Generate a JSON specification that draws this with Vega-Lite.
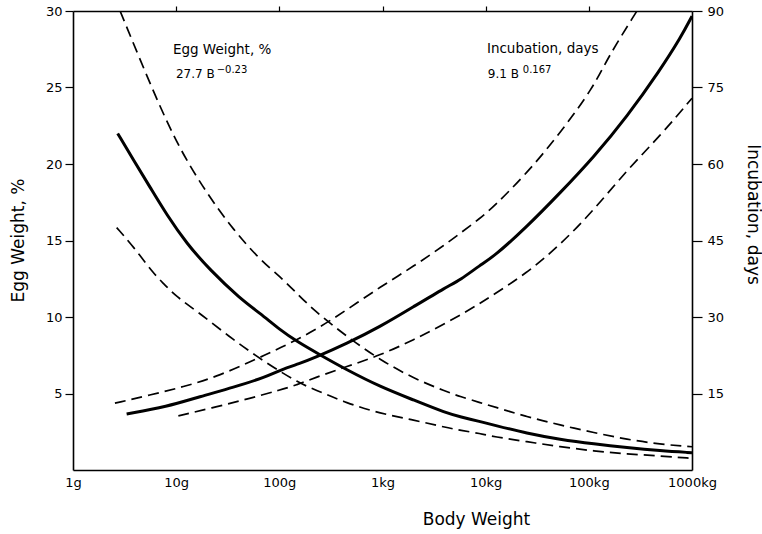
{
  "$schema": "https://vega.github.io/schema/vega-lite/v6.json",
  "autosize": {"type": "none"},
  "width": 619,
  "height": 459,
  "padding": {"left": 73, "top": 11, "right": 70, "bottom": 64},
  "background": "white",
  "config": {
    "view": {"stroke": null},
    "font": "DejaVu Sans",
    "axis": {
      "domainColor": "black", "domainWidth": 1.6, "tickColor": "black", "tickWidth": 1.2,
      "labelColor": "black", "labelFont": "DejaVu Sans", "labelFontSize": 13,
      "titleFont": "DejaVu Sans", "titleFontSize": 17, "titleFontWeight": "normal", "titleColor": "black",
      "grid": false
    }
  },
  "datasets": {
    "curves": [
      {"curve": "egg_mean", "g": 2.71, "v": 22.0}, {"curve": "egg_mean", "g": 3.85, "v": 20.26}, {"curve": "egg_mean", "g": 5.57, "v": 18.5}, {"curve": "egg_mean", "g": 8.11, "v": 16.67}, {"curve": "egg_mean", "g": 12.65, "v": 14.8}, {"curve": "egg_mean", "g": 21.3, "v": 13.07}, {"curve": "egg_mean", "g": 41.7, "v": 11.2}, {"curve": "egg_mean", "g": 65.2, "v": 10.24}, {"curve": "egg_mean", "g": 101.9, "v": 9.15}, {"curve": "egg_mean", "g": 148, "v": 8.4}, {"curve": "egg_mean", "g": 249, "v": 7.52}, {"curve": "egg_mean", "g": 452, "v": 6.54}, {"curve": "egg_mean", "g": 951, "v": 5.44}, {"curve": "egg_mean", "g": 1995, "v": 4.58}, {"curve": "egg_mean", "g": 4207, "v": 3.7}, {"curve": "egg_mean", "g": 5662, "v": 3.48}, {"curve": "egg_mean", "g": 8872, "v": 3.16}, {"curve": "egg_mean", "g": 11940, "v": 2.94}, {"curve": "egg_mean", "g": 25120, "v": 2.4}, {"curve": "egg_mean", "g": 52480, "v": 2.0}, {"curve": "egg_mean", "g": 112200, "v": 1.7}, {"curve": "egg_mean", "g": 234400, "v": 1.46}, {"curve": "egg_mean", "g": 489800, "v": 1.26}, {"curve": "egg_mean", "g": 1000000, "v": 1.13},
      {"curve": "egg_upper", "g": 2.86, "v": 30}, {"curve": "egg_upper", "g": 6.46, "v": 24.2}, {"curve": "egg_upper", "g": 10.96, "v": 20.9}, {"curve": "egg_upper", "g": 19.8, "v": 18.08}, {"curve": "egg_upper", "g": 35.9, "v": 15.69}, {"curve": "egg_upper", "g": 65.2, "v": 13.73}, {"curve": "egg_upper", "g": 101.9, "v": 12.63}, {"curve": "egg_upper", "g": 148, "v": 11.55}, {"curve": "egg_upper", "g": 214, "v": 10.46}, {"curve": "egg_upper", "g": 452, "v": 8.71}, {"curve": "egg_upper", "g": 951, "v": 7.19}, {"curve": "egg_upper", "g": 1995, "v": 5.99}, {"curve": "egg_upper", "g": 4169, "v": 5.12}, {"curve": "egg_upper", "g": 5662, "v": 4.8}, {"curve": "egg_upper", "g": 8872, "v": 4.4}, {"curve": "egg_upper", "g": 11940, "v": 4.14}, {"curve": "egg_upper", "g": 25120, "v": 3.48}, {"curve": "egg_upper", "g": 52480, "v": 2.94}, {"curve": "egg_upper", "g": 112200, "v": 2.44}, {"curve": "egg_upper", "g": 234400, "v": 2.0}, {"curve": "egg_upper", "g": 489800, "v": 1.68}, {"curve": "egg_upper", "g": 1000000, "v": 1.52},
      {"curve": "egg_lower", "g": 2.65, "v": 15.84}, {"curve": "egg_lower", "g": 3.85, "v": 14.6}, {"curve": "egg_lower", "g": 6.0, "v": 12.86}, {"curve": "egg_lower", "g": 7.52, "v": 12.2}, {"curve": "egg_lower", "g": 10, "v": 11.33}, {"curve": "egg_lower", "g": 17.0, "v": 10.24}, {"curve": "egg_lower", "g": 35.9, "v": 8.5}, {"curve": "egg_lower", "g": 75.3, "v": 6.97}, {"curve": "egg_lower", "g": 158.5, "v": 5.65}, {"curve": "egg_lower", "g": 214, "v": 5.3}, {"curve": "egg_lower", "g": 452, "v": 4.36}, {"curve": "egg_lower", "g": 951, "v": 3.7}, {"curve": "egg_lower", "g": 1995, "v": 3.27}, {"curve": "egg_lower", "g": 4169, "v": 2.77}, {"curve": "egg_lower", "g": 5662, "v": 2.6}, {"curve": "egg_lower", "g": 8872, "v": 2.38}, {"curve": "egg_lower", "g": 11940, "v": 2.18}, {"curve": "egg_lower", "g": 25120, "v": 1.85}, {"curve": "egg_lower", "g": 52480, "v": 1.52}, {"curve": "egg_lower", "g": 112200, "v": 1.24}, {"curve": "egg_lower", "g": 234400, "v": 1.05}, {"curve": "egg_lower", "g": 489800, "v": 0.92}, {"curve": "egg_lower", "g": 1000000, "v": 0.76},
      {"curve": "inc_mean", "g": 3.31, "v": 10.98}, {"curve": "inc_mean", "g": 8.11, "v": 12.4}, {"curve": "inc_mean", "g": 17.0, "v": 14.4}, {"curve": "inc_mean", "g": 35.9, "v": 16.2}, {"curve": "inc_mean", "g": 75.3, "v": 18.3}, {"curve": "inc_mean", "g": 101.9, "v": 19.6}, {"curve": "inc_mean", "g": 158.5, "v": 20.9}, {"curve": "inc_mean", "g": 214, "v": 21.9}, {"curve": "inc_mean", "g": 452, "v": 24.8}, {"curve": "inc_mean", "g": 951, "v": 28.1}, {"curve": "inc_mean", "g": 1995, "v": 32.0}, {"curve": "inc_mean", "g": 4169, "v": 35.9}, {"curve": "inc_mean", "g": 5662, "v": 37.25}, {"curve": "inc_mean", "g": 8872, "v": 40.2}, {"curve": "inc_mean", "g": 11940, "v": 41.8}, {"curve": "inc_mean", "g": 25120, "v": 47.7}, {"curve": "inc_mean", "g": 52480, "v": 54.3}, {"curve": "inc_mean", "g": 112200, "v": 61.4}, {"curve": "inc_mean", "g": 234400, "v": 69.3}, {"curve": "inc_mean", "g": 489800, "v": 78.4}, {"curve": "inc_mean", "g": 787000, "v": 85}, {"curve": "inc_mean", "g": 1000000, "v": 89},
      {"curve": "inc_upper", "g": 2.55, "v": 13.1}, {"curve": "inc_upper", "g": 5.57, "v": 14.7}, {"curve": "inc_upper", "g": 11.75, "v": 16.3}, {"curve": "inc_upper", "g": 24.7, "v": 18.3}, {"curve": "inc_upper", "g": 52.1, "v": 21.2}, {"curve": "inc_upper", "g": 101.9, "v": 23.9}, {"curve": "inc_upper", "g": 214, "v": 27.2}, {"curve": "inc_upper", "g": 452, "v": 31.4}, {"curve": "inc_upper", "g": 951, "v": 35.9}, {"curve": "inc_upper", "g": 1995, "v": 39.9}, {"curve": "inc_upper", "g": 4169, "v": 44.4}, {"curve": "inc_upper", "g": 5662, "v": 46.4}, {"curve": "inc_upper", "g": 8872, "v": 49.4}, {"curve": "inc_upper", "g": 11940, "v": 51.6}, {"curve": "inc_upper", "g": 25120, "v": 58.2}, {"curve": "inc_upper", "g": 52480, "v": 66.0}, {"curve": "inc_upper", "g": 112200, "v": 75.2}, {"curve": "inc_upper", "g": 147900, "v": 80.4}, {"curve": "inc_upper", "g": 292400, "v": 90},
      {"curve": "inc_lower", "g": 10.5, "v": 10.6}, {"curve": "inc_lower", "g": 24.7, "v": 12.4}, {"curve": "inc_lower", "g": 52.1, "v": 14.05}, {"curve": "inc_lower", "g": 101.9, "v": 15.7}, {"curve": "inc_lower", "g": 148, "v": 16.7}, {"curve": "inc_lower", "g": 214, "v": 18.0}, {"curve": "inc_lower", "g": 452, "v": 20.3}, {"curve": "inc_lower", "g": 951, "v": 22.5}, {"curve": "inc_lower", "g": 1995, "v": 25.5}, {"curve": "inc_lower", "g": 4169, "v": 28.8}, {"curve": "inc_lower", "g": 8872, "v": 32.7}, {"curve": "inc_lower", "g": 10230, "v": 33.5}, {"curve": "inc_lower", "g": 25120, "v": 38.6}, {"curve": "inc_lower", "g": 52480, "v": 44.1}, {"curve": "inc_lower", "g": 112200, "v": 51.0}, {"curve": "inc_lower", "g": 234400, "v": 58.8}, {"curve": "inc_lower", "g": 489800, "v": 65.5}, {"curve": "inc_lower", "g": 1000000, "v": 72.9}
    ],
    "notes": [
      {"chart": "egg", "kind": "head", "label": "Egg Weight, %", "g": 9.3, "v": 27.45},
      {"chart": "egg", "kind": "formula", "label": "27.7 B", "g": 9.96, "v": 25.9},
      {"chart": "egg", "kind": "sup", "label": "−0.23", "g": 24.7, "v": 26.15},
      {"chart": "inc", "kind": "head", "label": "Incubation, days", "g": 10280, "v": 82.6},
      {"chart": "inc", "kind": "formula", "label": "9.1 B", "g": 10500, "v": 77.6},
      {"chart": "inc", "kind": "sup", "label": "0.167", "g": 22900, "v": 78.4}
    ]
  },
  "layer": [
    {
      "encoding": {
        "x": {"field": "g", "type": "quantitative", "scale": {"type": "log", "domain": [1, 1000000]},
          "axis": {"orient": "bottom", "values": [1, 10, 100, 1000, 10000, 100000, 1000000], "title": "Body Weight",
            "labelExpr": "datum.value < 1000 ? datum.value + 'g' : (datum.value / 1000) + 'kg'",
            "ticks": false, "tickSize": 0, "labelPadding": 6, "labelFlush": false, "labelOverlap": false, "labelBound": false,
            "titleX": 403, "titleY": 49, "titleBaseline": "middle"}},
        "y": {"field": "v", "type": "quantitative", "scale": {"domain": [0, 30]},
          "axis": {"orient": "left", "values": [5, 10, 15, 20, 25, 30], "title": "Egg Weight, %",
            "tickSize": 8, "labelPadding": 3, "titleX": -55, "titleY": 229, "titleBaseline": "middle"}}
      },
      "layer": [
        {"data": {"name": "curves"}, "transform": [{"filter": "datum.curve === 'egg_mean'"}],
          "mark": {"type": "line", "color": "black", "strokeWidth": 3, "interpolate": "basis", "clip": true}, "encoding": {}},
        {"data": {"name": "curves"}, "transform": [{"filter": "datum.curve === 'egg_upper' || datum.curve === 'egg_lower'"}],
          "mark": {"type": "line", "color": "black", "strokeWidth": 1.7, "strokeDash": [11, 6], "interpolate": "basis", "clip": true},
          "encoding": {"detail": {"field": "curve"}}},
        {"data": {"name": "notes"}, "transform": [{"filter": "datum.chart === 'egg' && datum.kind === 'head'"}],
          "mark": {"type": "text", "align": "left", "baseline": "middle", "font": "DejaVu Sans", "fontSize": 13.5, "color": "black"},
          "encoding": {"text": {"field": "label"}}},
        {"data": {"name": "notes"}, "transform": [{"filter": "datum.chart === 'egg' && datum.kind === 'formula'"}],
          "mark": {"type": "text", "align": "left", "baseline": "middle", "font": "DejaVu Sans", "fontSize": 12, "color": "black"},
          "encoding": {"text": {"field": "label"}}},
        {"data": {"name": "notes"}, "transform": [{"filter": "datum.chart === 'egg' && datum.kind === 'sup'"}],
          "mark": {"type": "text", "align": "left", "baseline": "middle", "font": "DejaVu Sans", "fontSize": 10, "color": "black"},
          "encoding": {"text": {"field": "label"}}}
      ]
    },
    {
      "encoding": {
        "x": {"field": "g", "type": "quantitative", "scale": {"type": "log", "domain": [1, 1000000]},
          "axis": {"orient": "top", "values": [10, 100, 1000, 10000, 100000], "title": null, "labels": false, "tickSize": 5}},
        "y": {"field": "v", "type": "quantitative", "scale": {"domain": [0, 90]},
          "axis": {"orient": "right", "values": [15, 30, 45, 60, 75, 90], "title": "Incubation, days",
            "tickSize": 10, "labelPadding": 5, "titleX": 60, "titleY": 203, "titleAngle": 90, "titleBaseline": "middle"}}
      },
      "layer": [
        {"data": {"name": "curves"}, "transform": [{"filter": "datum.curve === 'inc_mean'"}],
          "mark": {"type": "line", "color": "black", "strokeWidth": 3, "interpolate": "basis", "clip": true}, "encoding": {}},
        {"data": {"name": "curves"}, "transform": [{"filter": "datum.curve === 'inc_upper' || datum.curve === 'inc_lower'"}],
          "mark": {"type": "line", "color": "black", "strokeWidth": 1.7, "strokeDash": [11, 6], "interpolate": "basis", "clip": true},
          "encoding": {"detail": {"field": "curve"}}},
        {"data": {"name": "notes"}, "transform": [{"filter": "datum.chart === 'inc' && datum.kind === 'head'"}],
          "mark": {"type": "text", "align": "left", "baseline": "middle", "font": "DejaVu Sans", "fontSize": 13.5, "color": "black"},
          "encoding": {"text": {"field": "label"}}},
        {"data": {"name": "notes"}, "transform": [{"filter": "datum.chart === 'inc' && datum.kind === 'formula'"}],
          "mark": {"type": "text", "align": "left", "baseline": "middle", "font": "DejaVu Sans", "fontSize": 12, "color": "black"},
          "encoding": {"text": {"field": "label"}}},
        {"data": {"name": "notes"}, "transform": [{"filter": "datum.chart === 'inc' && datum.kind === 'sup'"}],
          "mark": {"type": "text", "align": "left", "baseline": "middle", "font": "DejaVu Sans", "fontSize": 10, "color": "black"},
          "encoding": {"text": {"field": "label"}}}
      ]
    }
  ],
  "resolve": {"scale": {"y": "independent"}, "axis": {"x": "independent"}}
}
